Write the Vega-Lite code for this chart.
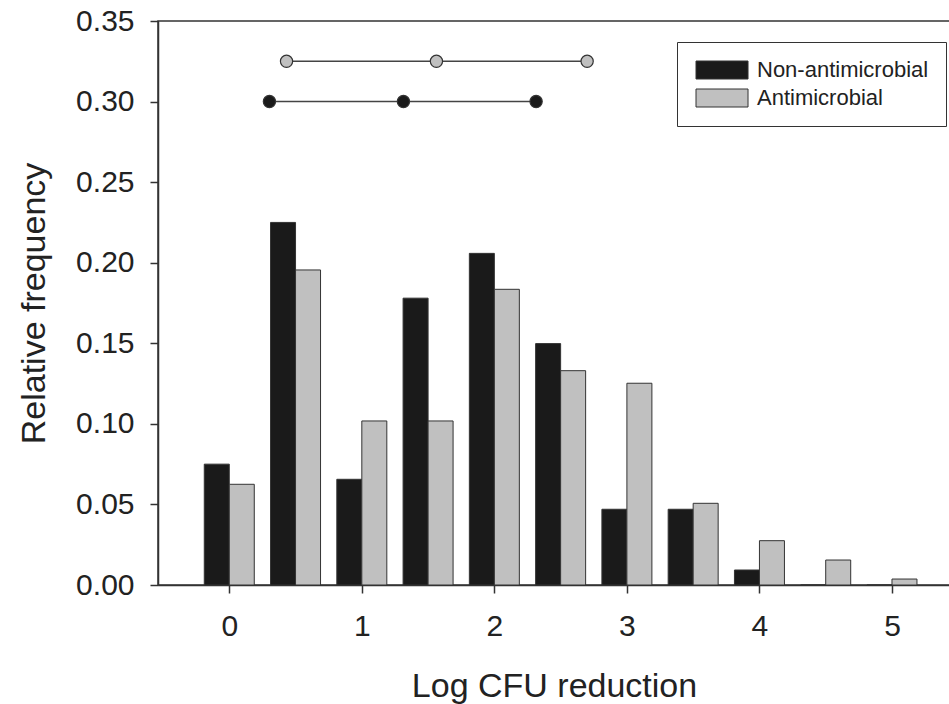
{
  "$schema": "https://vega.github.io/schema/vega-lite/v6.json",
  "autosize": "none",
  "width": 792,
  "height": 564,
  "padding": {"left": 158, "top": 21, "right": 0, "bottom": 119},
  "background": "white",
  "config": {
    "font": "Liberation Sans",
    "view": {"stroke": "#333", "strokeWidth": 1.5},
    "axis": {
      "grid": false,
      "domainColor": "#333",
      "domainWidth": 1.5,
      "tickColor": "#333",
      "tickWidth": 1.5,
      "tickSize": 8,
      "labelColor": "#222",
      "titleColor": "#222",
      "labelFont": "Liberation Sans",
      "titleFont": "Liberation Sans",
      "titleFontWeight": "normal"
    },
    "legend": {
      "orient": "none",
      "legendX": 519,
      "legendY": 21,
      "strokeColor": "#333",
      "fillColor": "white",
      "padding": 17,
      "labelFontSize": 22,
      "labelLimit": 400,
      "labelColor": "#222",
      "labelFont": "Liberation Sans",
      "symbolType": "M-1,-1H4.78V1H-1Z",
      "symbolSize": 324,
      "symbolStrokeColor": "#333",
      "symbolStrokeWidth": 1,
      "symbolOpacity": 1,
      "labelOffset": 41,
      "rowPadding": 6
    }
  },
  "datasets": {
    "bars": [
      {"bin": 0, "group": "Non-antimicrobial", "freq": 0.075},
      {"bin": 0, "group": "Antimicrobial", "freq": 0.0625},
      {"bin": 0.5, "group": "Non-antimicrobial", "freq": 0.225},
      {"bin": 0.5, "group": "Antimicrobial", "freq": 0.1955},
      {"bin": 1, "group": "Non-antimicrobial", "freq": 0.0656},
      {"bin": 1, "group": "Antimicrobial", "freq": 0.1018},
      {"bin": 1.5, "group": "Non-antimicrobial", "freq": 0.178},
      {"bin": 1.5, "group": "Antimicrobial", "freq": 0.1018},
      {"bin": 2, "group": "Non-antimicrobial", "freq": 0.2058},
      {"bin": 2, "group": "Antimicrobial", "freq": 0.1835},
      {"bin": 2.5, "group": "Non-antimicrobial", "freq": 0.1498},
      {"bin": 2.5, "group": "Antimicrobial", "freq": 0.133},
      {"bin": 3, "group": "Non-antimicrobial", "freq": 0.047},
      {"bin": 3, "group": "Antimicrobial", "freq": 0.1252},
      {"bin": 3.5, "group": "Non-antimicrobial", "freq": 0.047},
      {"bin": 3.5, "group": "Antimicrobial", "freq": 0.0507},
      {"bin": 4, "group": "Non-antimicrobial", "freq": 0.0093},
      {"bin": 4, "group": "Antimicrobial", "freq": 0.0275},
      {"bin": 4.5, "group": "Non-antimicrobial", "freq": 0},
      {"bin": 4.5, "group": "Antimicrobial", "freq": 0.0155},
      {"bin": 5, "group": "Non-antimicrobial", "freq": 0},
      {"bin": 5, "group": "Antimicrobial", "freq": 0.0037}
    ],
    "stats": [
      {"group": "Antimicrobial", "value": 0.432, "level": 0.325},
      {"group": "Antimicrobial", "value": 1.563, "level": 0.325},
      {"group": "Antimicrobial", "value": 2.7, "level": 0.325},
      {"group": "Non-antimicrobial", "value": 0.303, "level": 0.3},
      {"group": "Non-antimicrobial", "value": 1.314, "level": 0.3},
      {"group": "Non-antimicrobial", "value": 2.315, "level": 0.3}
    ]
  },
  "layer": [
    {
      "data": {"name": "bars"},
      "transform": [{"filter": "datum.group === 'Non-antimicrobial'"}],
      "mark": {"type": "bar", "width": 25, "xOffset": -12.5, "stroke": "#333", "strokeWidth": 1},
      "encoding": {
        "x": {
          "field": "bin", "type": "quantitative",
          "scale": {"domain": [-0.5, 5.4], "nice": false, "zero": false},
          "axis": {
            "title": "Log CFU reduction",
            "values": [0, 1, 2, 3, 4, 5],
            "format": "d",
            "labelFontSize": 30,
            "titleFontSize": 34,
            "labelPadding": 18,
            "titlePadding": 28
          }
        },
        "y": {
          "field": "freq", "type": "quantitative",
          "scale": {"domain": [0, 0.35], "nice": false},
          "axis": {
            "title": "Relative frequency",
            "values": [0, 0.05, 0.1, 0.15, 0.2, 0.25, 0.3, 0.35],
            "format": ".2f",
            "labelFontSize": 30,
            "titleFontSize": 34,
            "labelPadding": 16,
            "titlePadding": 24
          }
        },
        "color": {
          "field": "group", "type": "nominal",
          "scale": {"domain": ["Non-antimicrobial", "Antimicrobial"], "range": ["#1a1a1a", "#c0c0c0"]},
          "legend": {"title": null}
        }
      }
    },
    {
      "data": {"name": "bars"},
      "transform": [{"filter": "datum.group === 'Antimicrobial'"}],
      "mark": {"type": "bar", "width": 25, "xOffset": 12.5, "stroke": "#333", "strokeWidth": 1},
      "encoding": {
        "x": {"field": "bin", "type": "quantitative"},
        "y": {"field": "freq", "type": "quantitative"},
        "color": {"field": "group", "type": "nominal"}
      }
    },
    {
      "data": {"name": "stats"},
      "mark": {"type": "line", "stroke": "#444", "strokeWidth": 1.5},
      "encoding": {
        "x": {"field": "value", "type": "quantitative"},
        "y": {"field": "level", "type": "quantitative"},
        "detail": {"field": "group"}
      }
    },
    {
      "data": {"name": "stats"},
      "mark": {"type": "point", "filled": true, "size": 150, "stroke": "#333", "strokeWidth": 1.2, "opacity": 1},
      "encoding": {
        "x": {"field": "value", "type": "quantitative"},
        "y": {"field": "level", "type": "quantitative"},
        "fill": {
          "field": "group", "type": "nominal",
          "scale": {"domain": ["Non-antimicrobial", "Antimicrobial"], "range": ["#1a1a1a", "#c0c0c0"]},
          "legend": null
        }
      }
    }
  ]
}
